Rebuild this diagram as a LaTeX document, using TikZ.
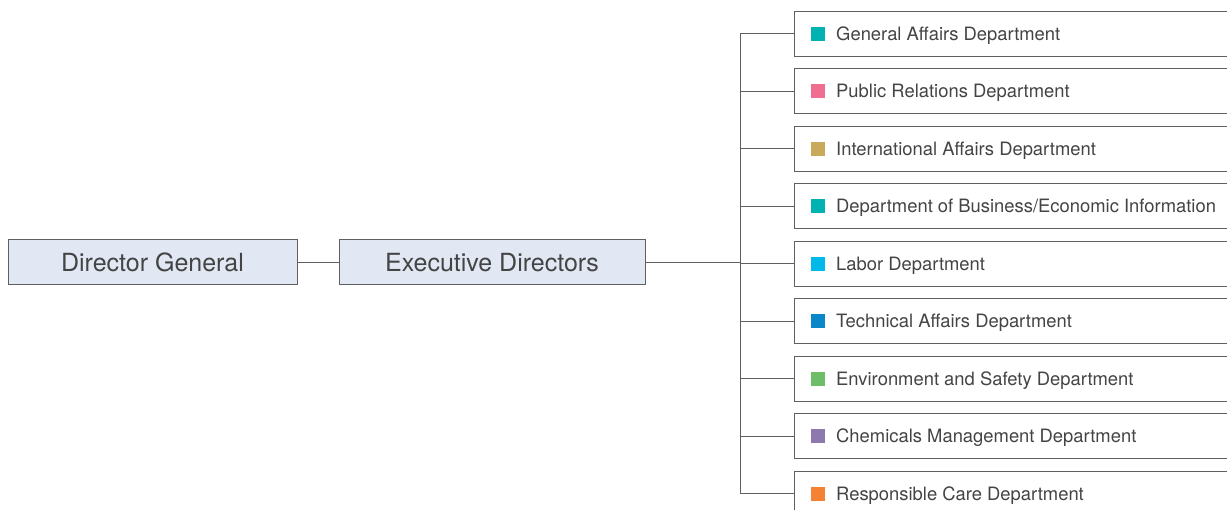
\documentclass[tikz,border=0pt]{standalone}
\usepackage{fontspec}
\setmainfont{TeX Gyre Heros}
\usetikzlibrary{positioning}

\definecolor{boxfill}{RGB}{225,232,243}
\definecolor{boxline}{RGB}{95,95,95}
\definecolor{labeltext}{RGB}{68,68,68}
\definecolor{teal}{RGB}{0,178,178}
\definecolor{pink}{RGB}{240,110,145}
\definecolor{khaki}{RGB}{200,170,90}
\definecolor{cyan}{RGB}{0,185,235}
\definecolor{blue}{RGB}{10,135,200}
\definecolor{green}{RGB}{110,190,105}
\definecolor{purple}{RGB}{140,122,175}
\definecolor{orange}{RGB}{245,130,50}

\begin{document}
\begin{tikzpicture}[
  x=1pt, y=-1pt,
  line/.style={
      draw=boxline,
      line width=1pt
    },
  head box/.style={
      line,
      fill=boxfill,
      minimum height=45pt,
      inner sep=0pt,
      text=labeltext,
      font=\fontsize{25}{30}\selectfont
    },
  dept box/.style={
      line,
      fill=white,
      anchor=west,
      minimum width=460pt,
      minimum height=45pt,
      inner sep=0pt
    },
  mark box/.style={
      anchor=west,
      minimum size=14pt,
      inner sep=0pt,
      draw=none
    },
  dept label/.style={
      anchor=west,
      inner sep=0pt,
      yshift=-1.5pt,
      text=labeltext,
      font=\fontsize{18.4}{22}\selectfont
    }]

  \useasboundingbox (0,0) rectangle (1227,510);
  \clip (0,0) rectangle (1227,510);

  \node [head box, minimum width=289pt] (dg) at (152.5,262.5) {Director General};
  \node [head box, minimum width=306pt] (ed) at (492,262.5) {Executive Directors};
  \draw [line] (dg.east) -- (ed.west);

  \coordinate (j) at (740,262.5);
  \draw [line] (ed.east) -- (j);

  \foreach \col/\txt [count=\i] in {
      teal/{General Affairs Department},
      pink/{Public Relations Department},
      khaki/{International Affairs Department},
      teal/{Department of Business/Economic Information},
      cyan/{Labor Department},
      blue/{Technical Affairs Department},
      green/{Environment and Safety Department},
      purple/{Chemicals Management Department},
      orange/{Responsible Care Department}} {
    \node [dept box] (d\i) at (794, 34+57.5*\i-57.5) {};
    \node [mark box, fill=\col, right=17pt of d\i.west] (m\i) {};
    \node [dept label, right=42pt of d\i.west] (l\i) {\txt};
    \draw [line] (d\i.west) -- (d\i.west -| j);
  }
  \draw [line] (d1.west -| j) -- (d9.west -| j);
\end{tikzpicture}
\end{document}
